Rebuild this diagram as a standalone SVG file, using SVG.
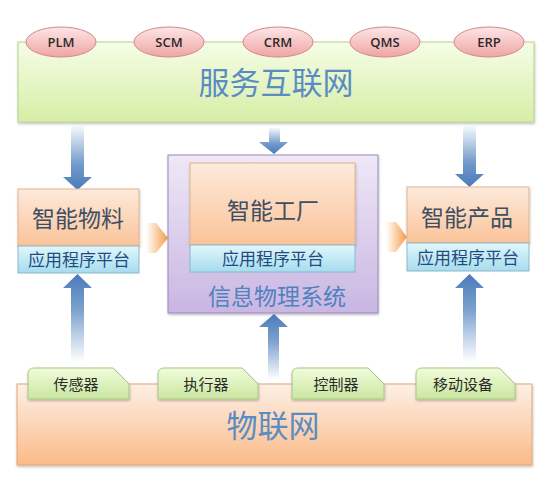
<svg xmlns="http://www.w3.org/2000/svg" width="556" height="484" viewBox="0 0 556 484">
<defs>
<linearGradient id="gGreen" x1="0" y1="0" x2="0" y2="1"><stop offset="0" stop-color="#f6fde6"/><stop offset="1" stop-color="#d6eea6"/></linearGradient>
<linearGradient id="gPink" x1="0" y1="0" x2="0" y2="1"><stop offset="0" stop-color="#fde6e6"/><stop offset="1" stop-color="#f0a4a4"/></linearGradient>
<linearGradient id="gOrange" x1="0" y1="0" x2="0" y2="1"><stop offset="0" stop-color="#fdeadc"/><stop offset="1" stop-color="#fac398"/></linearGradient>
<linearGradient id="gBlue" x1="0" y1="0" x2="0" y2="1"><stop offset="0" stop-color="#e2f6fb"/><stop offset="1" stop-color="#a6dcee"/></linearGradient>
<linearGradient id="gPurple" x1="0" y1="0" x2="0" y2="1"><stop offset="0" stop-color="#efe8f7"/><stop offset="1" stop-color="#c9b6e2"/></linearGradient>
<linearGradient id="gBottom" x1="0" y1="0" x2="0" y2="1"><stop offset="0" stop-color="#fdf0e6"/><stop offset="1" stop-color="#fbba88"/></linearGradient>
<linearGradient id="gTab" x1="0" y1="0" x2="0" y2="1"><stop offset="0" stop-color="#f2fbdc"/><stop offset="1" stop-color="#c9e7a0"/></linearGradient>
<linearGradient id="gDown" x1="0" y1="0" x2="0" y2="1"><stop offset="0" stop-color="#4f81bd" stop-opacity="0.05"/><stop offset="0.6" stop-color="#4f81bd" stop-opacity="0.8"/><stop offset="1" stop-color="#4a7aba"/></linearGradient>
<linearGradient id="gUp" x1="0" y1="1" x2="0" y2="0"><stop offset="0" stop-color="#4f81bd" stop-opacity="0"/><stop offset="0.6" stop-color="#4f81bd" stop-opacity="0.75"/><stop offset="1" stop-color="#4a7aba"/></linearGradient>
<linearGradient id="gRight" x1="0" y1="0" x2="1" y2="0"><stop offset="0" stop-color="#f7a050" stop-opacity="0"/><stop offset="1" stop-color="#f59a48"/></linearGradient>
<filter id="sh" x="-5%" y="-5%" width="110%" height="115%"><feDropShadow dx="0.5" dy="1.5" stdDeviation="1" flood-color="#000" flood-opacity="0.25"/></filter>
</defs>
<style>
.cjk{font-family:"Noto Sans CJK SC","Noto Sans",sans-serif;}
.lat{font-family:"Open Sans","Liberation Sans",sans-serif;font-size:13px;font-weight:600;fill:#2b2b2b;text-anchor:middle;}
.big{font-size:31px;fill:#5a8cc4;text-anchor:middle;}
.box{font-size:23px;fill:#3f4e63;text-anchor:middle;}
.plat{font-size:17px;fill:#1f4c80;text-anchor:middle;}
.tabt{font-size:15px;fill:#2b2b2b;text-anchor:middle;}
.ell{fill:url(#gPink);stroke:#cf8888;stroke-width:1;}
.tab{fill:url(#gTab);stroke:#a9c684;stroke-width:1;}
.obox{fill:url(#gOrange);stroke:#e2b48e;stroke-width:1;}
.bstrip{fill:url(#gBlue);stroke:#86b8cc;stroke-width:1;}
</style>

<g id="service-internet">
<rect x="18" y="42" width="516" height="80" fill="url(#gGreen)" stroke="#b9d08e" filter="url(#sh)"/>
<text class="cjk big" x="276" y="94">服务互联网</text>
</g>
<g id="plm"><ellipse class="ell" cx="61" cy="42" rx="35" ry="15"/><text class="lat" x="61" y="47">PLM</text></g>
<g id="scm"><ellipse class="ell" cx="169" cy="42" rx="35" ry="15"/><text class="lat" x="169" y="47">SCM</text></g>
<g id="crm"><ellipse class="ell" cx="278" cy="42" rx="35" ry="15"/><text class="lat" x="278" y="47">CRM</text></g>
<g id="qms"><ellipse class="ell" cx="385" cy="42" rx="35" ry="15"/><text class="lat" x="385" y="47">QMS</text></g>
<g id="erp"><ellipse class="ell" cx="489" cy="42" rx="35" ry="15"/><text class="lat" x="489" y="47">ERP</text></g>

<g id="connectors">
<path d="M71,126 L84,126 L84,177 L92,177 L77.5,190 L63,177 L71,177 Z" fill="url(#gDown)"/>
<path d="M269,128 L280,128 L280,142 L288,142 L274,154 L259,142 L269,142 Z" fill="url(#gDown)"/>
<path d="M463,126 L476,126 L476,174 L484,174 L469.5,187 L455,174 L463,174 Z" fill="url(#gDown)"/>
<path d="M71,362 L84,362 L84,288 L92,288 L77.5,274 L63,288 L71,288 Z" fill="url(#gUp)"/>
<path d="M268,380 L279,380 L279,327 L288,327 L274,314 L259,327 L268,327 Z" fill="url(#gUp)"/>
<path d="M463,362 L476,362 L476,288 L484,288 L469.5,274 L455,288 L463,288 Z" fill="url(#gUp)"/>
<path d="M146,223 L156,223 L168,238 L156,253 L146,253 Z" fill="url(#gRight)"/>
<path d="M386,222 L396,222 L407,237 L396,252 L386,252 Z" fill="url(#gRight)"/>
</g>

<g id="smart-material">
<rect class="obox" x="18" y="189" width="121" height="57" filter="url(#sh)"/>
<text class="cjk box" x="78" y="227">智能物料</text>
<rect class="bstrip" x="18" y="246" width="121" height="27"/>
<text class="cjk plat" x="79" y="266">应用程序平台</text>
</g>

<g id="cps">
<rect x="168" y="155" width="210" height="158" fill="url(#gPurple)" stroke="#9a88b8" filter="url(#sh)"/>
<text class="cjk" x="277" y="305" font-size="23" fill="#5082bd" text-anchor="middle">信息物理系统</text>
</g>
<g id="smart-factory">
<rect class="obox" x="190" y="163" width="165" height="82" filter="url(#sh)"/>
<text class="cjk box" x="273" y="219">智能工厂</text>
<rect class="bstrip" x="190" y="245" width="165" height="27"/>
<text class="cjk plat" x="273" y="265">应用程序平台</text>
</g>

<g id="smart-product">
<rect class="obox" x="407" y="187" width="122" height="56" filter="url(#sh)"/>
<text class="cjk box" x="467" y="226">智能产品</text>
<rect class="bstrip" x="407" y="243" width="122" height="28"/>
<text class="cjk plat" x="468" y="264">应用程序平台</text>
</g>

<g id="iot">
<rect x="17" y="384" width="515" height="81" fill="url(#gBottom)" stroke="#dfa679" filter="url(#sh)"/>
<text class="cjk big" x="273" y="437" fill="#6a8ec4">物联网</text>
</g>
<g id="sensor"><path class="tab" d="M28,399 L28,374 Q28,368 34,368 L113,368 L129,384 L129,399 Z" filter="url(#sh)"/><text class="cjk tabt" x="76" y="390">传感器</text></g>
<g id="actuator"><path class="tab" d="M158,399 L158,374 Q158,368 164,368 L242,368 L258,384 L258,399 Z" filter="url(#sh)"/><text class="cjk tabt" x="206" y="390">执行器</text></g>
<g id="controller"><path class="tab" d="M292,399 L292,374 Q292,368 298,368 L368,368 L384,384 L384,399 Z" filter="url(#sh)"/><text class="cjk tabt" x="336" y="390">控制器</text></g>
<g id="mobile"><path class="tab" d="M416,399 L416,374 Q416,368 422,368 L499,368 L515,384 L515,399 Z" filter="url(#sh)"/><text class="cjk tabt" x="463" y="390">移动设备</text></g>
</svg>
